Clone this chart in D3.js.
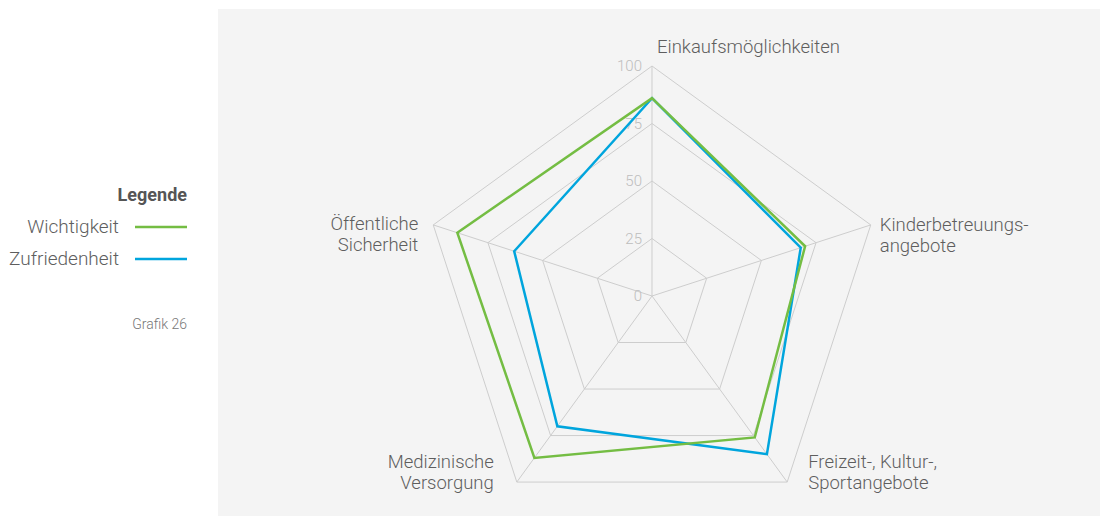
<!DOCTYPE html>
<html>
<head>
<meta charset="utf-8">
<script src="https://cdn.jsdelivr.net/npm/d3@7"></script>
<style>
  html, body { margin: 0; padding: 0; background: #fff; }
  svg { display: block; font-family: Roboto, "Open Sans", sans-serif; }
</style>
</head>
<body>
<div id="chart"></div>
<script>
// axes, clockwise from the top
const axes = [
  ['Einkaufsmöglichkeiten'],
  ['Kinderbetreuungs-', 'angebote'],
  ['Freizeit-, Kultur-,', 'Sportangebote'],
  ['Medizinische', 'Versorgung'],
  ['Öffentliche', 'Sicherheit']
]
const wichtigkeit = [86, 70, 76, 87, 89]
const zufriedenheit = [86, 68, 85, 70, 63]
const seriesNames = ['Wichtigkeit', 'Zufriedenheit']
const seriesColors = ['#74bd43', '#00a5dd']
const levels = [0, 25, 50, 75, 100]

const dimensions = { width: 1101, height: 516, cx: 652, cy: 296, radius: 230 }

const svg = d3.select('#chart')
  .append('svg')
  .attr('width', dimensions.width)
  .attr('height', dimensions.height)

// grey panel
svg.append('rect')
  .attr('x', 218).attr('y', 9)
  .attr('width', 882).attr('height', 507)
  .attr('fill', '#f4f4f4')

const ctr = svg.append('g')
  .attr('transform', `translate(${dimensions.cx}, ${dimensions.cy})`)

const rScale = d3.scaleLinear().domain([0, 100]).range([0, dimensions.radius])
const angle = i => i * 2 * Math.PI / axes.length

// point on the chart for axis i at value v
const pt = (i, v) => [
  rScale(v) * Math.sin(angle(i)),
  -rScale(v) * Math.cos(angle(i))
]

const radial = d3.lineRadial()
  .angle((d, i) => angle(i))
  .radius(d => rScale(d))
  .curve(d3.curveLinearClosed)

// grid pentagons
ctr.selectAll('.grid')
  .data(levels.slice(1))
  .join('path')
  .attr('class', 'grid')
  .attr('d', l => radial(axes.map(() => l)))
  .attr('fill', 'none')
  .attr('stroke', '#cdcdcd')
  .attr('stroke-width', 1)

// spokes
ctr.selectAll('.spoke')
  .data(axes)
  .join('line')
  .attr('class', 'spoke')
  .attr('x1', 0).attr('y1', 0)
  .attr('x2', (d, i) => pt(i, 100)[0])
  .attr('y2', (d, i) => pt(i, 100)[1])
  .attr('stroke', '#cdcdcd')
  .attr('stroke-width', 1)

// level labels
ctr.selectAll('.level')
  .data(levels)
  .join('text')
  .attr('class', 'level')
  .attr('x', -10)
  .attr('y', l => -rScale(l) + 5)
  .attr('text-anchor', 'end')
  .attr('fill', '#bdbdbd')
  .style('font-size', '15px')
  .style('font-weight', 300)
  .text(l => l)

// series, blue under green
const seriesData = [wichtigkeit, zufriedenheit]
ctr.selectAll('.series')
  .data([1, 0])
  .join('path')
  .attr('class', 'series')
  .attr('d', k => radial(seriesData[k]))
  .attr('fill', 'none')
  .attr('stroke', k => seriesColors[k])
  .attr('stroke-width', 2.5)
  .attr('stroke-linejoin', 'miter')

// axis labels: offset from the 100-vertex
const labelPos = [
  { dx: 5, dy: -13, anchor: 'start' },
  { dx: 9, dy: 6, anchor: 'start' },
  { dx: 21, dy: -14, anchor: 'start' },
  { dx: -23, dy: -14, anchor: 'end' },
  { dx: -15, dy: 5, anchor: 'end' }
]

axes.forEach((lines, i) => {
  const [vx, vy] = pt(i, 100)
  const p = labelPos[i]
  const t = ctr.append('text')
    .attr('x', vx + p.dx)
    .attr('y', vy + p.dy)
    .attr('text-anchor', p.anchor)
    .attr('fill', '#5e5e5e')
    .style('font-size', '18.5px')
    .style('font-weight', 300)
  lines.forEach((s, j) => {
    t.append('tspan')
      .attr('x', vx + p.dx)
      .attr('dy', j === 0 ? 0 : 21)
      .text(s)
  })
})

// legend
const legend = svg.append('g')
legend.append('text')
  .attr('x', 187).attr('y', 201)
  .attr('text-anchor', 'end')
  .attr('fill', '#555')
  .style('font-size', '18px')
  .style('font-weight', 700)
  .text('Legende')

const items = legend.selectAll('.item')
  .data(seriesNames)
  .join('g')
  .attr('class', 'item')
  .attr('transform', (d, i) => `translate(0, ${227 + i * 32})`)

items.append('line')
  .attr('x1', 135).attr('x2', 187)
  .attr('stroke', (d, i) => seriesColors[i])
  .attr('stroke-width', 2.5)

items.append('text')
  .attr('x', 119).attr('y', 6)
  .attr('text-anchor', 'end')
  .attr('fill', '#5e5e5e')
  .style('font-size', '19px')
  .style('font-weight', 300)
  .text(d => d)

legend.append('text')
  .attr('x', 187).attr('y', 329)
  .attr('text-anchor', 'end')
  .attr('fill', '#777')
  .style('font-size', '14px')
  .style('font-weight', 300)
  .text('Grafik 26')
</script>
</body>
</html>
